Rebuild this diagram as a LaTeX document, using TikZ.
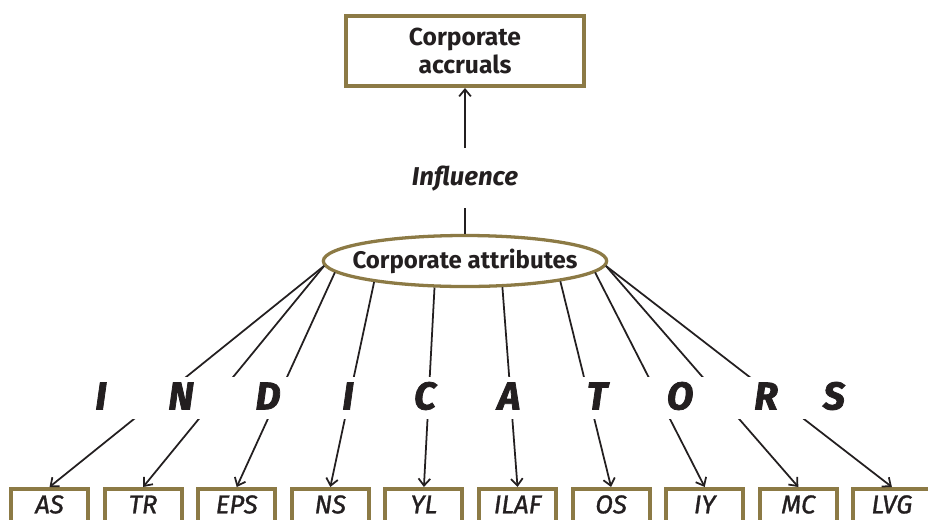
\documentclass[tikz,border=0pt]{standalone}
\usepackage{fontspec}
\setmainfont{Fira Sans}
\newfontfamily\labfont{Fira Sans}[FakeBold=1.2]
\newfontfamily\ltrfont{Fira Sans}[FakeBold=2]
\definecolor{gold}{HTML}{8C7A45}
\definecolor{ink}{HTML}{231F20}
\usetikzlibrary{arrows.meta,shapes.geometric}

\begin{document}
\begin{tikzpicture}[x=.03cm,y=-.03cm,line width=1.5pt,color=ink,>={Straight Barb[length=6pt,width=10pt]},
  frm/.style={draw=gold,line width=3.4pt,inner sep=0pt},
  lbl/.style={frm,anchor=north,minimum width=2.31cm,text height=.51cm,text depth=.6cm,inner ysep=.22cm,font=\fontsize{22}{24}\labfont\itshape},
  ltr/.style={font=\fontsize{33}{36}\ltrfont\bfseries\itshape}]
\clip(0,0)rectangle(928,519);
\node[frm,minimum width=7.14cm,minimum height=2.1cm,align=center,font=\fontsize{21}{24}\selectfont\bfseries](acc)at(465,51){Corporate\\accruals};
\node[frm,ellipse,line width=2.8pt,inner xsep=-.5cm,inner ysep=-.3cm,minimum width=8.5cm,minimum height=1.53cm,font=\fontsize{20.5}{24}\selectfont\bfseries](attr)at(465,261){Corporate attributes};
\node[font=\fontsize{22}{24}\selectfont\bfseries\itshape](infl)at(465,179){Influence};
\coordinate(up)at(465,148);\coordinate(lo)at(465,208);
\draw[->](up)--(acc.south);\draw(lo)--(attr.north);
% indicator boxes
\foreach \lab[count=\i from 0] in {AS,TR,EPS,NS,YL,ILAF,OS,IY,MC,LVG}
  \node[lbl](\lab)at(49.5+93.6*\i,487){\lab};
\foreach \a/\b in {182/AS,182/TR,185/EPS,193/NS,221/YL,325/ILAF,348/OS,355/IY,358/MC,358/LVG}
  \draw[->](attr.\a)--(\b.north);
\fill[white](0,377)rectangle(928,419);
\foreach \c/\x[count=\i] in {I/101,N/181,D/268,I/348,C/425,A/509,T/597,O/680,R/766,S/834}
  \node[ltr](l\i)at(\x,396){\c};
\end{tikzpicture}
\end{document}
